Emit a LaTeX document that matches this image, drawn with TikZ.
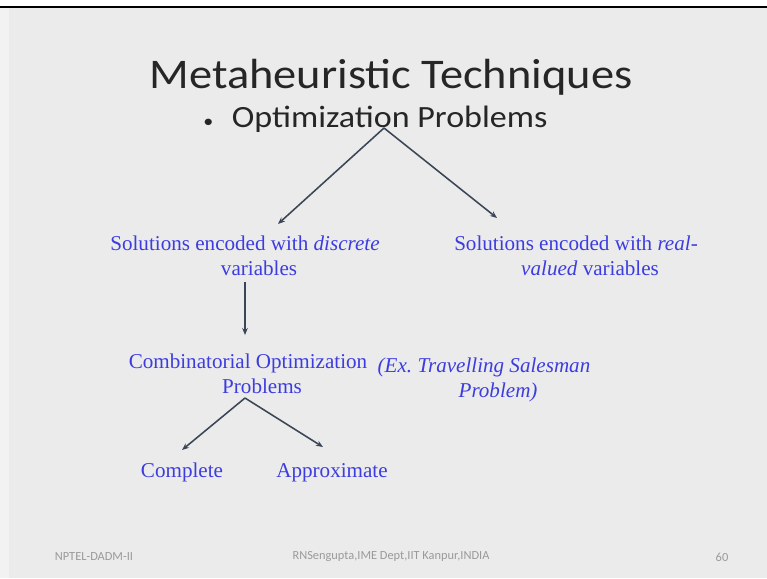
\documentclass[tikz,border=0pt]{standalone}
\usepackage{fontspec}
\setmainfont{Liberation Serif}
\newfontfamily\slidefont{Carlito}
\usepackage{xcolor}
\usepackage{graphicx}
\usetikzlibrary{calc}
\usetikzlibrary{arrows.meta}
\definecolor{SlideBlue}{HTML}{3C3CE0}
\definecolor{SlideGray}{HTML}{EBEBEB}
\definecolor{ArrowGray}{HTML}{3A4656}
\definecolor{FootGray}{HTML}{9A9A9A}

\newcommand{\wrapline}{\\\hspace*{20pt}}

\tikzset{
  slidetitle/.style = {font=\slidefont\fontsize{30}{36}\selectfont, text=black!85, inner sep=0pt, anchor=base},
  bulletline/.style = {font=\slidefont\fontsize{22}{26}\selectfont, text=black!85, inner sep=0pt, anchor=base west},
  bluetext/.style = {font=\fontsize{15}{17.7}\selectfont, text=SlideBlue, align=center, inner sep=1pt, anchor=base},
  footer/.style = {font=\slidefont\fontsize{8.8}{10}\selectfont, text=FootGray},
  branch/.style = {-{Stealth[length=5pt, width=4pt]}, line width=1.1pt, draw=ArrowGray}
}

\begin{document}
\begin{tikzpicture}[x=0.025cm, y=-0.025cm]
  % slide background
\begin{scope}
    \useasboundingbox (0,0) rectangle (767,578);
    \fill[white] (0,0) rectangle (767,8);
    \fill[SlideGray] (0,8) rectangle (767,578);
    \fill[black!5] (0,8) rectangle (9,578);
    \draw[line width = 2pt, black] (0,7) -- (767,7);
\end{scope}

  % title and bullet
\node[slidetitle] (title) at (391,88) {\scalebox{1.1}[1]{Metaheuristic Techniques}};
\node[bulletline] (opt) at (203,127) {\scalebox{1.1}[1]{{\fontsize{13}{13}\selectfont\textbullet}\hspace{12pt}Optimization Problems}};
\coordinate (split) at (384,128);
\coordinate (discTip) at (278,224);
\coordinate (realTip) at (497,218);

  % first level (base = last line)
\node[bluetext] (disc) at (245,275) {Solutions encoded with \textit{discrete}\wrapline variables};
\node[bluetext] (real) at (576,275) {Solutions encoded with \textit{real-}\wrapline\textit{valued} variables};
\draw[branch] (split) -- (discTip);
\draw[branch] (split) -- (realTip);

  % second level
\node[bluetext] (comb) at (248,393) {Combinatorial Optimization\wrapline Problems};
\node[bluetext, font=\itshape\fontsize{15}{17.7}\selectfont] (tsp) at (484,397) {(Ex.\ Travelling Salesman\wrapline Problem)};
\coordinate (combTip) at (245,335);
\draw[branch] ($(disc.south -| combTip)+(0,5)$) -- (combTip);

  % third level
\node[bluetext] (comp) at (182,477) {Complete};
\node[bluetext] (appr) at (332,477) {Approximate};
\coordinate (split2) at (245,398);
\coordinate (compTip) at (182,450);
\coordinate (apprTip) at (323,447);
\draw[branch] (split2) -- (compTip);
\draw[branch] (split2) -- (apprTip);

  % footer
\node[footer] (course) at (94,557) {NPTEL-DADM-II};
\node[footer] (credit) at (391,557) {RNSengupta,IME Dept,IIT Kanpur,INDIA};
\node[footer] (page) at (722,557) {60};
\end{tikzpicture}
\end{document}
